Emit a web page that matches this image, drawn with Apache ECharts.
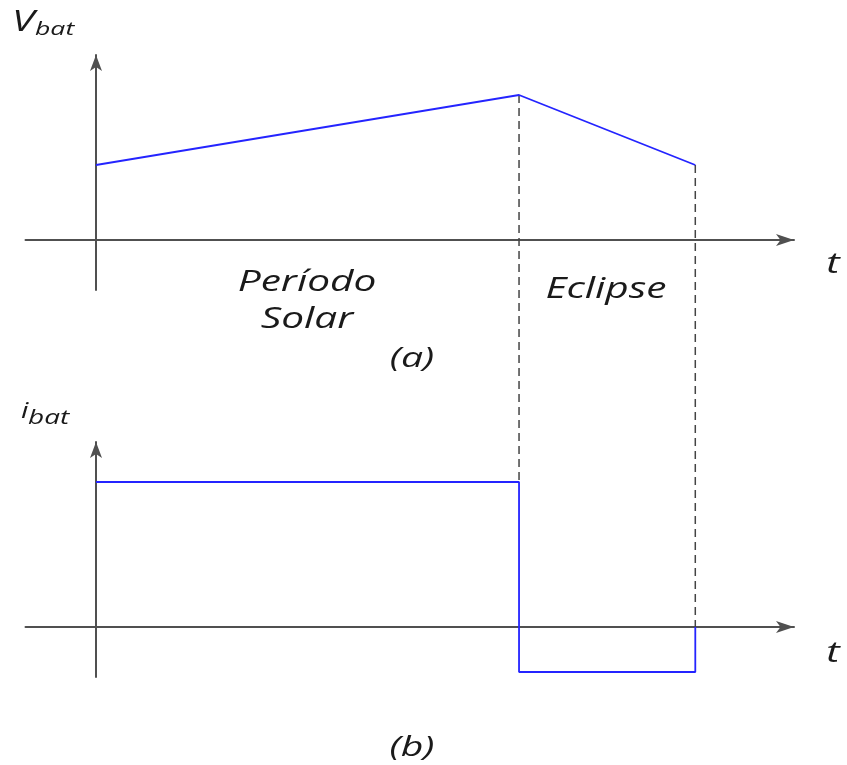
<!DOCTYPE html>
<html>
<head>
<meta charset="utf-8">
<script src="https://cdn.jsdelivr.net/npm/echarts@6/dist/echarts.min.js"></script>
<style>
  html, body { margin: 0; padding: 0; background: #fff; }
  #main { width: 847px; height: 765px; }
</style>
</head>
<body>
<div id="main"></div>
<script>
// tiempos de cambio (min): inicio, fin del periodo solar, fin del eclipse
var tPoints = [0, 60, 85];
// tension de bateria en esos instantes
var vBat = [15, 29, 15];
// corriente de bateria: carga en sol, descarga en eclipse
var iCharge = 29;
var iDischarge = -9;

var FONT = '"Open Sans", "DejaVu Sans", sans-serif';
var AXIS_COLOR = '#505050';
var LINE_COLOR = '#2424ff';
var STRETCH = 1.4;

var chart = echarts.init(document.getElementById('main'));

// serie escalonada de la corriente, hecha a partir de los arrays
var iData = [
  [tPoints[0], iCharge],
  [tPoints[1], iCharge],
  [tPoints[1], iDischarge],
  [tPoints[2], iDischarge],
  [tPoints[2], 0]
];
var vData = tPoints.map(function (t, k) { return [t, vBat[k]]; });

function axisX(grid) {
  return {
    type: 'value', gridIndex: grid, min: -10, max: 99,
    axisLine: { show: true, onZero: true, symbol: ['none', 'arrow'], symbolSize: [9, 18],
      lineStyle: { color: AXIS_COLOR, width: 2 } },
    axisTick: { show: false }, axisLabel: { show: false }, splitLine: { show: false }
  };
}
function axisY(grid, max) {
  return {
    type: 'value', gridIndex: grid, min: -10, max: max,
    axisLine: { show: true, onZero: true, symbol: ['none', 'arrow'], symbolSize: [9, 16],
      lineStyle: { color: AXIS_COLOR, width: 2 } },
    axisTick: { show: false }, axisLabel: { show: false }, splitLine: { show: false }
  };
}

function label(text, x, y, size, align) {
  return {
    type: 'text', x: x, y: y, scaleX: STRETCH, z: 10,
    style: {
      text: text, fontFamily: FONT, fontStyle: 'italic', fontWeight: 500, fontSize: size,
      fill: '#1a1a1a', align: align || 'center', verticalAlign: 'middle'
    }
  };
}

var option = {
  animation: false,
  backgroundColor: '#fff',
  grid: [
    { left: 25.5, width: 768.5, top: 55, height: 235 },
    { left: 25.5, width: 768.5, top: 442, height: 235 }
  ],
  xAxis: [axisX(0), axisX(1)],
  yAxis: [axisY(0, 37), axisY(1, 37)],
  series: [
    {
      type: 'line', xAxisIndex: 0, yAxisIndex: 0, data: vData,
      symbol: 'none', lineStyle: { color: LINE_COLOR, width: 1.8 }, z: 5
    },
    {
      type: 'line', xAxisIndex: 1, yAxisIndex: 1, data: iData,
      symbol: 'none', lineStyle: { color: LINE_COLOR, width: 1.8 }, z: 5
    }
  ],
  graphic: [
    label('V', 12, 23, 29, 'left'),
    label('bat', 35, 30, 19, 'left'),
    label('i', 21, 412, 21, 'left'),
    label('bat', 28, 418, 20, 'left'),
    label('t', 833, 265, 29),
    label('t', 833, 654, 29),
    label('Período', 307, 283, 29),
    label('Solar', 307, 320, 29),
    label('Eclipse', 606, 290, 29),
    label('(a)', 412, 359, 28),
    label('(b)', 412, 748, 28)
  ]
};
chart.setOption(option);

// lineas discontinuas: bajan desde la curva de tension hasta la grafica de corriente
var guideEnds = [
  [tPoints[1], iCharge],
  [tPoints[2], 0]
];
var guides = guideEnds.map(function (p, k) {
  var px = chart.convertToPixel({ gridIndex: 1 }, p);
  var v = chart.convertFromPixel({ gridIndex: 0 }, px);
  return {
    type: 'line', xAxisIndex: 0, yAxisIndex: 0, clip: false,
    data: [[tPoints[k + 1], vBat[k + 1]], [tPoints[k + 1], v[1]]],
    symbol: 'none', silent: true, z: 3,
    lineStyle: { color: '#444', width: 1.5, type: [8, 5] }
  };
});
chart.setOption({ series: option.series.concat(guides) });
</script>
</body>
</html>
